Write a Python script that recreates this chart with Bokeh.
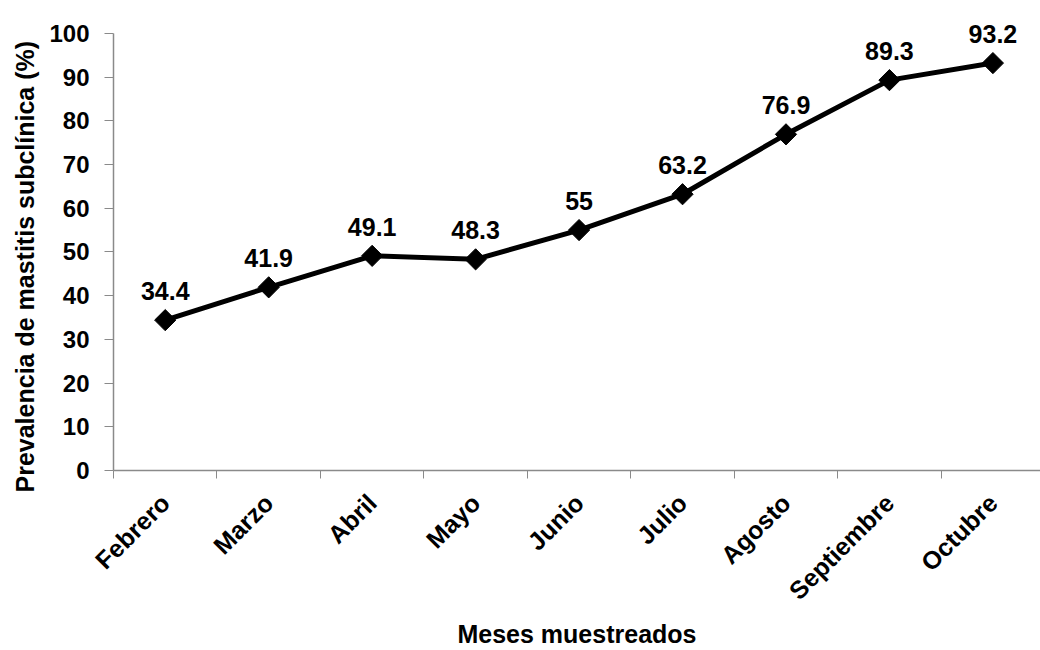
from bokeh.plotting import figure
from bokeh.models import (Range1d, FixedTicker, ColumnDataSource, Title)
from bokeh.embed import file_html
from bokeh.resources import INLINE
from bokeh.core.properties import value

months = ["Febrero", "Marzo", "Abril", "Mayo", "Junio", "Julio", "Agosto",
          "Septiembre", "Octubre"]
prevalence = [34.4, 41.9, 49.1, 48.3, 55, 63.2, 76.9, 89.3, 93.2]
y_ticks = list(range(0, 101, 10))
x_title = "Meses muestreados"
y_title = "Prevalencia de mastitis subclínica (%)"

FONT = "Liberation Sans"
AXIS_GREY = "#8a8a8a"

n = len(months)
slot_centers = [i + 0.5 for i in range(n)]      # category slot centres
slot_edges = list(range(n + 1))                 # category slot boundaries
labels = [f"{v:g}" for v in prevalence]
src = ColumnDataSource(dict(x=slot_centers, val=prevalence, lab=labels))

p = figure(x_range=Range1d(0, 8.96),
           y_range=Range1d(0, 105),
           width=1040, height=650, output_backend="svg", toolbar_location=None,
           min_border_left=113, min_border_right=0, min_border_top=11,
           min_border_bottom=177)
p.outline_line_color = None
p.background_fill_color = "white"
p.border_fill_color = "white"
p.grid.visible = False

xaxis = p.xaxis[0]
xaxis.ticker = FixedTicker(ticks=slot_centers, minor_ticks=slot_edges)
xaxis.major_label_overrides = {c: m for c, m in zip(slot_centers, months)}
xaxis.major_tick_out = 0
xaxis.major_tick_in = 0
xaxis.minor_tick_out = 8
xaxis.minor_tick_in = 0
xaxis.minor_tick_line_color = AXIS_GREY
xaxis.axis_line_color = AXIS_GREY
xaxis.axis_line_width = 1.5
xaxis.major_label_orientation = 0.785398
xaxis.major_label_standoff = 20
xaxis.major_label_text_font = FONT
xaxis.major_label_text_font_size = "25px"
xaxis.major_label_text_font_style = "bold"
xaxis.major_label_text_color = "black"
xaxis.axis_label = x_title
xaxis.axis_label_text_font = FONT
xaxis.axis_label_text_font_size = "25px"
xaxis.axis_label_text_font_style = "bold"
xaxis.axis_label_text_color = "black"
xaxis.axis_label_standoff = 2

yaxis = p.yaxis[0]
yaxis.ticker = FixedTicker(ticks=y_ticks)
yaxis.bounds = (0, 100)
yaxis.major_tick_out = 9
yaxis.major_tick_in = 0
yaxis.minor_tick_out = 0
yaxis.minor_tick_in = 0
yaxis.major_tick_line_color = AXIS_GREY
yaxis.axis_line_color = AXIS_GREY
yaxis.axis_line_width = 1.5
yaxis.major_label_standoff = 15
yaxis.major_label_text_font = FONT
yaxis.major_label_text_font_size = "24px"
yaxis.major_label_text_font_style = "bold"
yaxis.major_label_text_color = "black"

p.add_layout(Title(text=y_title, align="left", offset=-22,
                   vertical_align="top",
                   text_font=FONT, text_font_size="25px",
                   text_font_style="bold", text_color="black",
                   standoff=12), "left")

p.line("x", "val", source=src, line_width=5, line_color="black")
p.scatter("x", "val", source=src, marker="square", angle=0.785398,
          size=15, fill_color="black", line_color="black")
p.text("x", "val", text="lab", source=src, text_align="center",
       text_baseline="alphabetic", y_offset=-29, text_font=value(FONT),
       text_font_size="25px", text_font_style="bold", text_color="black")

open("out.html", "w").write(file_html(p, INLINE))
